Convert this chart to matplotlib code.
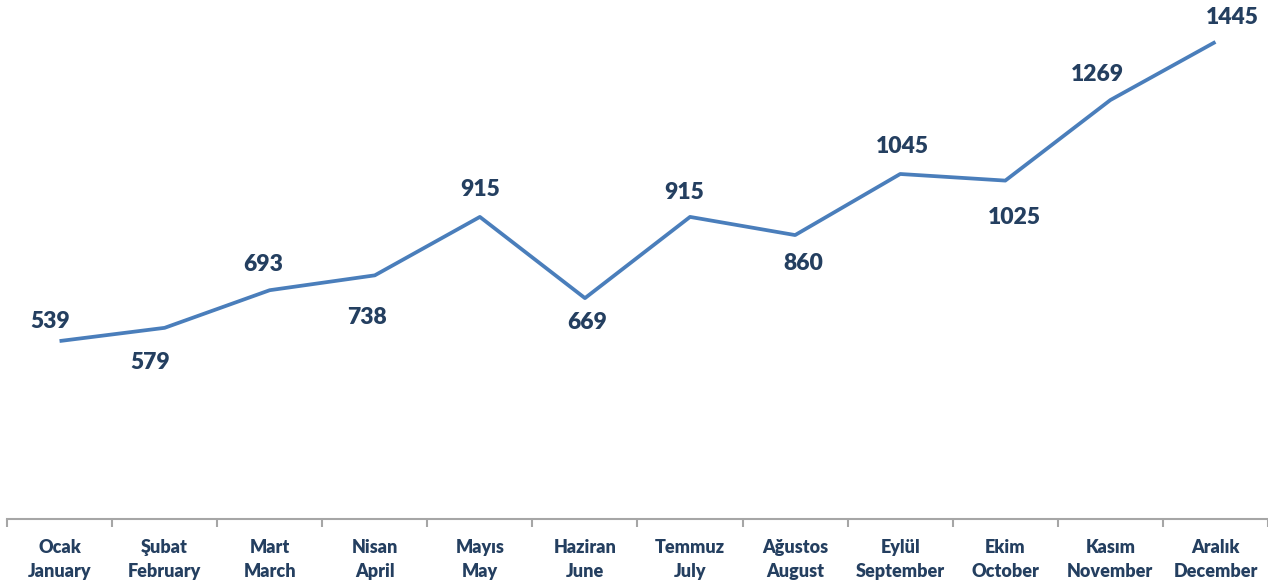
import matplotlib
matplotlib.use('Agg')
import matplotlib.pyplot as plt

months_tr = ['Ocak', 'Şubat', 'Mart', 'Nisan', 'Mayıs', 'Haziran', 'Temmuz',
             'Ağustos', 'Eylül', 'Ekim', 'Kasım', 'Aralık']
months_en = ['January', 'February', 'March', 'April', 'May', 'June', 'July',
             'August', 'September', 'October', 'November', 'December']
values = [539, 579, 693, 738, 915, 669, 915, 860, 1045, 1025, 1269, 1445]

# label offsets from the point, pixels (dx, dy up)
label_offsets = [(-9, 20), (-14, -35), (-7, 26), (-8, -42), (0, 27), (2, -24),
                 (-6, 24), (8, -28), (2, 27), (9, -37), (-13, 26), (17, 24)]

plt.rcParams['font.family'] = ['Lato', 'DejaVu Sans']

fig = plt.figure(figsize=(12.68, 5.86), dpi=100)
ax = fig.add_axes([7 / 1268, 67 / 586, 1261 / 1268, 519 / 586])

x = list(range(len(values)))
ax.plot(x, values, color='#4A7EBB', linewidth=2.7, solid_capstyle='butt')

for i, v in enumerate(values):
    dx, dy = label_offsets[i]
    ax.annotate(str(v), (i, v), xytext=(dx * 0.72, dy * 0.72), textcoords='offset points',
                ha='center', va='center', fontsize=16.5, fontweight='heavy', color='#243F60')

ax.set_xlim(-0.5, 11.5)
ax.set_ylim(0, 1572)
ax.set_yticks([])
ax.set_xticks([i + 0.5 for i in range(-1, 12)])
ax.set_xticklabels([])
ax.set_xticks(x, minor=True)
ax.set_xticklabels([a + '\n' + b for a, b in zip(months_tr, months_en)], minor=True,
                   fontsize=13, fontweight='heavy', color='#243F60', linespacing=1.5)
ax.tick_params(axis='x', which='major', length=6, width=1.5, color='#A6A6A6', direction='out')
ax.tick_params(axis='x', which='minor', length=0, pad=14.5)

for s in ['top', 'right', 'left']:
    ax.spines[s].set_visible(False)
ax.spines['bottom'].set_color('#A6A6A6')
ax.spines['bottom'].set_linewidth(1.5)

fig.savefig('out.png', dpi=100)
